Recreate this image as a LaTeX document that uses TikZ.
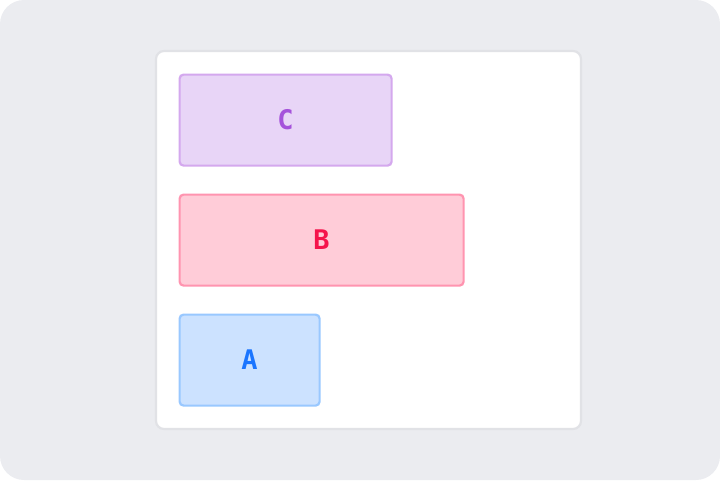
\documentclass[tikz,border=0pt]{standalone}
\usepackage{fontspec}
\newfontfamily\boxfont{DejaVu Sans Mono}
\usepackage{tikz}
\definecolor{canvas}{HTML}{EBECF0}
\definecolor{panelRim}{HTML}{E1E2E6}
\definecolor{purpleFill}{HTML}{E8D5F7}
\definecolor{purpleRim}{HTML}{D4A8EE}
\definecolor{purpleInk}{HTML}{A552DB}
\definecolor{pinkFill}{HTML}{FFCCD8}
\definecolor{pinkRim}{HTML}{FF94B0}
\definecolor{pinkInk}{HTML}{F5144C}
\definecolor{blueFill}{HTML}{CCE2FF}
\definecolor{blueRim}{HTML}{99C8FF}
\definecolor{blueInk}{HTML}{1A75FF}
\tikzset{
  every bar box/.style={draw,line width=2.2pt,rounded corners=4pt,anchor=north west,
    minimum height=91pt,inner sep=0pt,font=\boxfont\bfseries\fontsize{27}{27}\selectfont},
  bar box/.style n args={3}{every bar box,fill=#1Fill,draw=#1Rim,text=#1Ink,minimum width=#2,#3},
}

\begin{document}
\begin{tikzpicture}[x=1pt,y=-1pt]
\useasboundingbox (0,0) rectangle (720,480);
\fill[canvas,rounded corners=24pt] (0,0) rectangle (720,480);
\draw[panelRim,fill=white,line width=2.2pt,rounded corners=8pt] (156,51) rectangle (581,429);
\node[bar box={purple}{212pt}{}] (boxC) at (178.5,73.5) {C};
\node[bar box={pink}{284pt}{}] (boxB) at (178.5,193.5) {B};
\node[bar box={blue}{140pt}{}] (boxA) at (178.5,313.5) {A};
\end{tikzpicture}
\end{document}
